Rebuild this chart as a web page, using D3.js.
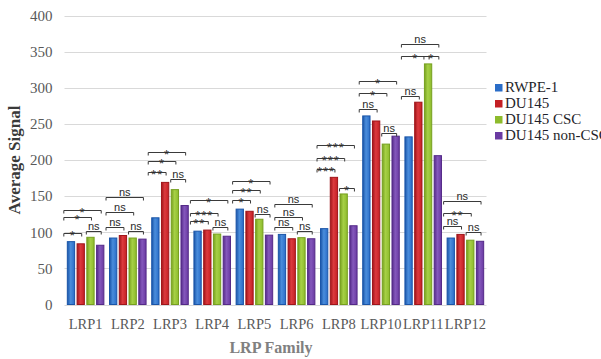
<!DOCTYPE html>
<html>
<head>
<meta charset="utf-8">
<script src="https://cdn.jsdelivr.net/npm/d3@7"></script>
<style>
  html, body { margin: 0; padding: 0; background: #fff; }
  svg { display: block; }
</style>
</head>
<body>
<svg id="chart" width="601" height="359"></svg>
<script>
// LRP family members on the x axis
const categories = ["LRP1", "LRP2", "LRP3", "LRP4", "LRP5", "LRP6", "LRP8", "LRP10", "LRP11", "LRP12"];
// cell lines, one bar each per family member
const seriesNames = ["RWPE-1", "DU145", "DU145 CSC", "DU145 non-CSC"];
const rwpe1    = [87, 92, 120, 101.5, 132, 97, 105, 261, 232, 92];
const du145    = [84, 95.5, 169, 103, 129, 91, 176, 254, 280, 97];
const du145Csc = [93, 92, 159, 97.5, 118, 92.5, 153, 222, 333, 89];
const du145Non = [82, 90.5, 137, 94.5, 96, 91, 109, 233, 206, 87.5];
const yTicks = [0, 50, 100, 150, 200, 250, 300, 350, 400];

// significance comparisons: [category, first bar, last bar, bracket level (signal units), label]
const brackets = [
  ["LRP1", 0, 1, 98.7, "*"], ["LRP1", 2, 3, 101.5, "ns"], ["LRP1", 0, 2, 120.8, "*"], ["LRP1", 0, 3, 131, "*"],
  ["LRP2", 0, 1, 107, "ns"], ["LRP2", 2, 3, 102.4, "ns"], ["LRP2", 0, 2, 127.8, "ns"], ["LRP2", 0, 3, 148.5, "ns"],
  ["LRP3", 0, 1, 183, "**"], ["LRP3", 2, 3, 174, "ns"], ["LRP3", 0, 2, 198.3, "*"], ["LRP3", 0, 3, 210.4, "*"],
  ["LRP4", 0, 1, 115, "**"], ["LRP4", 2, 3, 107, "ns"], ["LRP4", 0, 2, 126.4, "***"], ["LRP4", 0, 3, 144, "*"],
  ["LRP5", 0, 1, 145, "*"], ["LRP5", 2, 3, 125.5, "ns"], ["LRP5", 0, 2, 158.8, "**"], ["LRP5", 0, 3, 171.6, "*"],
  ["LRP6", 0, 1, 107, "ns"], ["LRP6", 2, 3, 102.4, "ns"], ["LRP6", 0, 2, 120.8, "ns"], ["LRP6", 0, 3, 139.4, "ns"],
  ["LRP8", 0, 1, 186.9, "***"], ["LRP8", 2, 3, 161.5, "*"], ["LRP8", 0, 2, 203, "***"], ["LRP8", 0, 3, 221, "***"],
  ["LRP10", 0, 1, 271, "ns"], ["LRP10", 2, 3, 237.6, "ns"], ["LRP10", 0, 2, 293, "*"], ["LRP10", 0, 3, 310, "*"],
  ["LRP11", 0, 1, 288.3, "ns"], ["LRP11", 0, 2, 343.7, "*"], ["LRP11", 2, 3, 343.7, "*"], ["LRP11", 0, 3, 360.8, "ns"],
  ["LRP12", 0, 1, 108.4, "ns"], ["LRP12", 2, 3, 100, "ns"], ["LRP12", 0, 2, 127, "**"], ["LRP12", 0, 3, 143, "ns"]
];

const seriesValues = [rwpe1, du145, du145Csc, du145Non];
const baseColors = ["#2a6dc8", "#c41f24", "#8dbb2c", "#6a3aa2"];
const edgeColors = ["#1a55a8", "#a0151a", "#76a01f", "#542a88"];
const lightColors = ["#4a8ddc", "#dc3a3e", "#a6d046", "#8458bc"];

const svg = d3.select("#chart");
const margin = { left: 64.5, right: 114.5, top: 15.5, bottom: 54.5 };
const W = 601, H = 359;

const x0 = d3.scaleBand().domain(categories).range([margin.left, W - margin.right]).paddingInner(0.11).paddingOuter(0.055);
const x1 = d3.scaleBand().domain(d3.range(4)).range([0, x0.bandwidth()]).paddingInner(0.15);
const y = d3.scaleLinear().domain([0, 400]).range([H - margin.bottom, margin.top]);

const serif = "'Liberation Serif', 'DejaVu Serif', serif";

// gradients for the bar faces
const defs = svg.append("defs");
baseColors.forEach((c, i) => {
  const g = defs.append("linearGradient").attr("id", "grad" + i).attr("x1", "0%").attr("x2", "100%").attr("y1", "0%").attr("y2", "0%");
  g.append("stop").attr("offset", "0%").attr("stop-color", edgeColors[i]);
  g.append("stop").attr("offset", "45%").attr("stop-color", lightColors[i]);
  g.append("stop").attr("offset", "100%").attr("stop-color", baseColors[i]);
});

// horizontal grid lines
svg.append("g")
  .selectAll("line").data(yTicks).join("line")
  .attr("x1", margin.left).attr("x2", W - margin.right)
  .attr("y1", d => Math.round(y(d)) + 0.5).attr("y2", d => Math.round(y(d)) + 0.5)
  .attr("stroke", "#d9d9d9").attr("stroke-width", 1);

// y axis labels
const yAxis = d3.axisLeft(y).tickValues(yTicks).tickSize(0).tickPadding(12);
const yg = svg.append("g").attr("transform", `translate(${margin.left},0)`).call(yAxis);
yg.select(".domain").remove();
yg.selectAll("text").attr("font-family", serif).attr("font-size", 15).attr("fill", "#595959");

// x axis labels
const xAxis = d3.axisBottom(x0).tickSize(0).tickPadding(14);
const xg = svg.append("g").attr("transform", `translate(0,${y(0)})`).call(xAxis);
xg.select(".domain").remove();
xg.selectAll("text").attr("font-family", serif).attr("font-size", 14.5).attr("fill", "#595959");

// bars
const groups = svg.append("g").selectAll("g").data(categories).join("g")
  .attr("transform", d => `translate(${x0(d)},0)`);
groups.selectAll("rect")
  .data((c, ci) => seriesValues.map((vals, si) => ({ si, v: vals[ci] })))
  .join("rect")
  .attr("x", d => x1(d.si) + 0.5)
  .attr("width", x1.bandwidth() - 1)
  .attr("y", d => y(d.v))
  .attr("height", d => y(0) - y(d.v))
  .attr("fill", d => `url(#grad${d.si})`)
  .attr("stroke", d => edgeColors[d.si])
  .attr("stroke-width", 1);

// significance brackets
const bg = svg.append("g");
brackets.forEach(([cat, a, b, lvl, label]) => {
  const gx = x0(cat);
  const xa = gx + x1(a) - (a === 0 ? 3 : 0);
  const xb = gx + x1(b) + x1.bandwidth() / 2 + 1;
  const yy = Math.round(y(lvl)) + 0.5;
  bg.append("path")
    .attr("d", `M${xa},${yy + 3}V${yy}H${xb}V${yy + 3}`)
    .attr("fill", "none").attr("stroke", "#3a3a3a").attr("stroke-width", 1);
  const isStar = label !== "ns";
  bg.append("text")
    .attr("x", (xa + xb) / 2)
    .attr("y", isStar ? yy + 6 : yy - 1.5)
    .attr("text-anchor", "middle")
    .attr("font-family", "'Liberation Sans', Arial, sans-serif")
    .attr("font-size", isStar ? 13 : 11)
    .attr("letter-spacing", isStar ? 1 : 0)
    .attr("fill", "#2a2a2a")
    .text(label);
});

// axis titles
svg.append("text")
  .attr("transform", `translate(20,${(y(0) + y(400)) / 2}) rotate(-90)`)
  .attr("text-anchor", "middle")
  .attr("font-family", serif).attr("font-weight", "bold").attr("font-size", 17)
  .attr("fill", "#3a3a3a")
  .text("Average Signal");
svg.append("text")
  .attr("x", 271).attr("y", 353)
  .attr("text-anchor", "middle")
  .attr("font-family", serif).attr("font-weight", "bold").attr("font-size", 16)
  .attr("fill", "#808080")
  .text("LRP Family");

// legend
const lg = svg.append("g").attr("transform", "translate(495,84)");
seriesNames.forEach((name, i) => {
  const row = lg.append("g").attr("transform", `translate(0,${i * 16})`);
  row.append("rect").attr("width", 7.5).attr("height", 7.5).attr("fill", baseColors[i]);
  row.append("text").attr("x", 10).attr("y", 8)
    .attr("font-family", serif).attr("font-size", 15).attr("fill", "#1f1f2a")
    .text(name);
});
</script>
</body>
</html>
